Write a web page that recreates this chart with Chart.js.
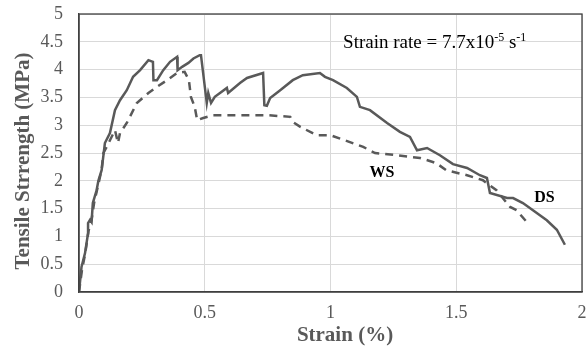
<!DOCTYPE html>
<html>
<head>
<meta charset="utf-8">
<script src="https://cdn.jsdelivr.net/npm/chart.js@4/dist/chart.umd.min.js"></script>
<style>
  html, body { margin: 0; padding: 0; background: #fff; }
  #wrap { width: 587px; height: 349px; }
</style>
</head>
<body>
<div id="wrap"><canvas id="chart" width="587" height="349"></canvas></div>
<script>
// Curva DS (linha cheia)
const dsStrain = [0, 0.01, 0.024, 0.036, 0.036, 0.044, 0.05, 0.055, 0.07, 0.077, 0.09, 0.103, 0.123, 0.143, 0.163, 0.19, 0.215, 0.243, 0.276, 0.294, 0.296, 0.31, 0.335, 0.362, 0.39, 0.392, 0.41, 0.435, 0.455, 0.48, 0.485, 0.508, 0.514, 0.525, 0.54, 0.588, 0.593, 0.64, 0.668, 0.732, 0.737, 0.747, 0.76, 0.8, 0.85, 0.89, 0.958, 0.978, 1.01, 1.065, 1.105, 1.117, 1.157, 1.225, 1.276, 1.316, 1.344, 1.384, 1.435, 1.487, 1.543, 1.594, 1.622, 1.634, 1.702, 1.726, 1.765, 1.805, 1.86, 1.9, 1.932];
const dsStress = [0, 0.45, 0.7, 1.06, 1.24, 1.3, 1.26, 1.6, 1.83, 2.0, 2.19, 2.68, 2.86, 3.27, 3.45, 3.63, 3.87, 3.99, 4.17, 4.14, 3.81, 3.81, 3.99, 4.14, 4.23, 3.99, 4.05, 4.12, 4.2, 4.26, 4.26, 3.4, 3.58, 3.4, 3.51, 3.67, 3.58, 3.76, 3.85, 3.94, 3.36, 3.35, 3.49, 3.63, 3.81, 3.9, 3.94, 3.87, 3.81, 3.67, 3.51, 3.33, 3.27, 3.04, 2.88, 2.79, 2.55, 2.59, 2.46, 2.3, 2.23, 2.1, 2.05, 1.78, 1.69, 1.69, 1.6, 1.47, 1.29, 1.12, 0.85];

// Curva WS (linha tracejada)
const wsStrain = [0, 0.012, 0.025, 0.038, 0.05, 0.06, 0.075, 0.09, 0.097, 0.11, 0.143, 0.155, 0.163, 0.19, 0.23, 0.276, 0.31, 0.35, 0.39, 0.42, 0.437, 0.445, 0.46, 0.47, 0.494, 0.533, 0.61, 0.747, 0.84, 0.85, 0.88, 0.946, 1.0, 1.13, 1.177, 1.264, 1.356, 1.42, 1.46, 1.543, 1.606, 1.66, 1.714, 1.74, 1.78];
const wsStress = [0, 0.4, 0.7, 1.1, 1.3, 1.6, 1.9, 2.2, 2.5, 2.61, 2.91, 2.68, 2.86, 3.04, 3.4, 3.58, 3.69, 3.81, 3.94, 3.96, 3.81, 3.51, 3.33, 3.09, 3.13, 3.18, 3.18, 3.18, 3.15, 3.06, 2.97, 2.82, 2.82, 2.61, 2.5, 2.46, 2.41, 2.32, 2.19, 2.1, 2.01, 1.83, 1.53, 1.47, 1.26];

// Eixos
const xTicks = [0, 0.5, 1, 1.5, 2];
const yTicks = [0, 0.5, 1, 1.5, 2, 2.5, 3, 3.5, 4, 4.5, 5];
const xTitle = "Strain (%)";
const yTitle = "Tensile Strrength (MPa)";

const gray = "#595959";
const serif = "'Liberation Serif', 'Times New Roman', serif";

const toPoints = (xs, ys) => xs.map((x, i) => ({ x: x, y: ys[i] }));

// Moldura, títulos e textos
const extras = {
  id: "extras",
  afterDraw(chart) {
    const { ctx, chartArea, scales } = chart;
    ctx.save();
    ctx.strokeStyle = "#404040";
    ctx.lineWidth = 1.3;
    ctx.strokeRect(chartArea.left, chartArea.top, chartArea.right - chartArea.left, chartArea.bottom - chartArea.top);

    // títulos dos eixos
    ctx.fillStyle = gray;
    ctx.font = "bold 21px " + serif;
    ctx.textAlign = "center";
    ctx.textBaseline = "alphabetic";
    ctx.fillText(xTitle, 345, 341);
    ctx.save();
    ctx.translate(29, 161);
    ctx.rotate(-Math.PI / 2);
    ctx.fillText(yTitle, 0, 0);
    ctx.restore();

    ctx.fillStyle = "#000";
    ctx.textAlign = "left";
    let x = scales.x.getPixelForValue(1.05);
    const y = scales.y.getPixelForValue(4.38);
    const parts = [["Strain rate = 7.7x10", 0], ["-5", 1], [" s", 0], ["-1", 1]];
    parts.forEach(([t, sup]) => {
      ctx.font = (sup ? "12px " : "19px ") + serif;
      ctx.fillText(t, x, sup ? y - 7 : y);
      x += ctx.measureText(t).width;
    });

    ctx.font = "bold 16px " + serif;
    ctx.fillText("WS", scales.x.getPixelForValue(1.155), scales.y.getPixelForValue(2.06));
    ctx.fillText("DS", scales.x.getPixelForValue(1.81), scales.y.getPixelForValue(1.62));
    ctx.restore();
  }
};

new Chart(document.getElementById("chart").getContext("2d"), {
  type: "scatter",
  data: {
    datasets: [
      {
        label: "DS",
        data: toPoints(dsStrain, dsStress),
        showLine: true,
        borderColor: gray,
        borderWidth: 2.5,
        pointRadius: 0,
        tension: 0
      },
      {
        label: "WS",
        data: toPoints(wsStrain, wsStress),
        showLine: true,
        borderColor: gray,
        borderWidth: 2.5,
        borderDash: [8, 6],
        pointRadius: 0,
        tension: 0
      }
    ]
  },
  options: {
    responsive: false,
    animation: false,
    layout: { padding: { top: 14, right: 5, left: 0, bottom: 0 } },
    plugins: {
      legend: { display: false },
      tooltip: { enabled: false }
    },
    scales: {
      x: {
        type: "linear",
        min: 0,
        max: 2,
        afterBuildTicks: (axis) => { axis.ticks = xTicks.map(v => ({ value: v })); },
        afterFit: (axis) => {
          axis.height = 57;
          axis.paddingLeft = 0;
          axis.paddingRight = 0;
        },
        grid: { color: "#d9d9d9", drawTicks: false },
        border: { display: true, color: "#404040", width: 1.3 },
        ticks: {
          color: gray,
          font: { family: serif, size: 18 },
          padding: 10,
          maxRotation: 0,
          callback: (v) => String(v)
        }
      },
      y: {
        type: "linear",
        min: 0,
        max: 5,
        afterBuildTicks: (axis) => { axis.ticks = yTicks.map(v => ({ value: v })); },
        afterFit: (axis) => {
          axis.width = 79;
          axis.paddingTop = 0;
          axis.paddingBottom = 0;
        },
        grid: { color: "#d9d9d9", drawTicks: false },
        border: { display: true, color: "#404040", width: 1.3 },
        ticks: {
          color: gray,
          font: { family: serif, size: 18 },
          padding: 16,
          callback: (v) => String(v)
        }
      }
    }
  },
  plugins: [extras]
});
</script>
</body>
</html>
